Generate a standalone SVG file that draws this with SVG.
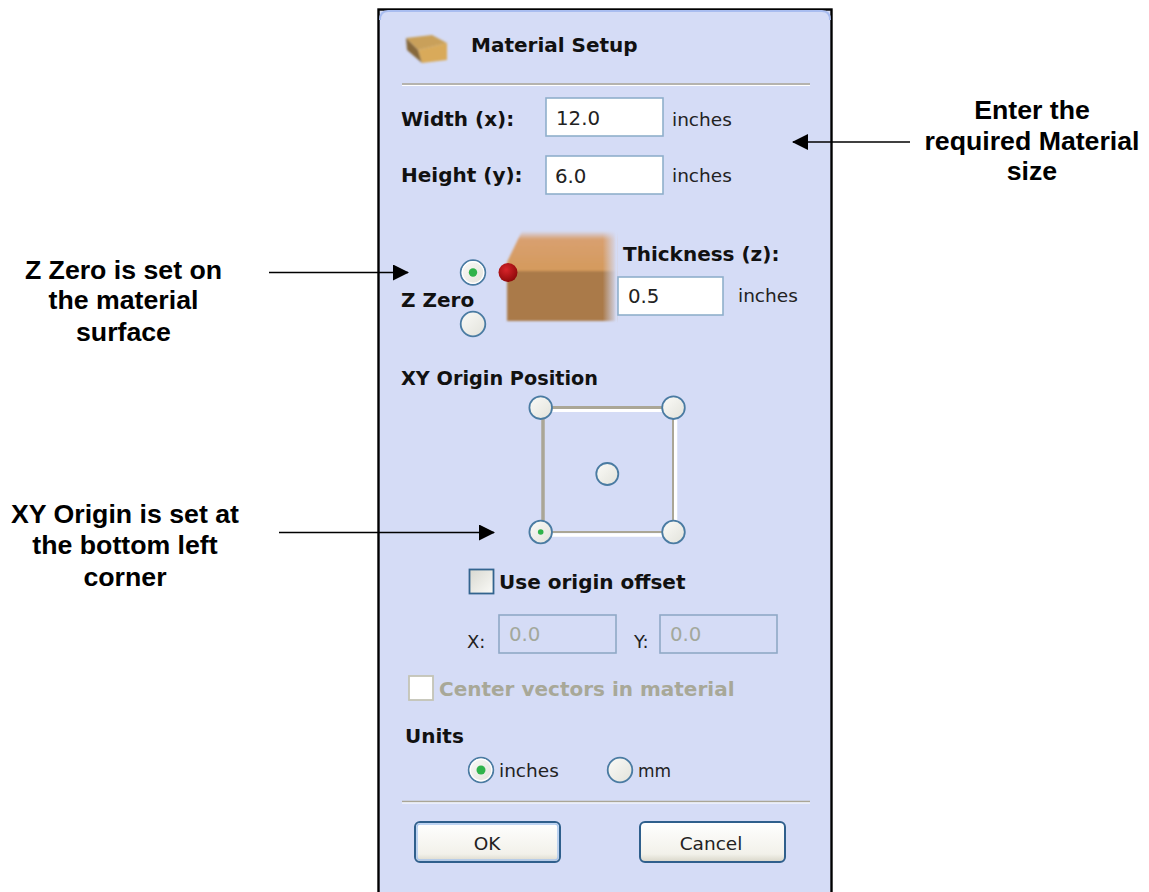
<svg xmlns="http://www.w3.org/2000/svg" width="1149" height="892" viewBox="0 0 1149 892">
<style>
.a{font-family:"Liberation Sans",Arial,sans-serif;font-size:26.7px;font-weight:bold;fill:#000;text-anchor:middle}
.b{font-family:"DejaVu Sans",Verdana,sans-serif;font-weight:bold;font-size:20px;fill:#111}
.t{font-family:"DejaVu Sans",Verdana,sans-serif;font-size:18.500px;fill:#222}
.n{font-family:"DejaVu Sans",Verdana,sans-serif;font-size:19.800px;fill:#222}
.f{fill:#fff;stroke:#8fafcb;stroke-width:1.6}
.d{fill:none;stroke:#8fa9c6;stroke-width:1.6}
.r{fill:url(#rg);stroke:#4a7ba2;stroke-width:1.8}
.i{fill:none;stroke:#fff;stroke-width:1.2}
.c{stroke:#000;stroke-width:1.7;fill:none}
.s1{stroke:#aaa696;fill:none}
.s2{stroke:#fff;fill:none}
</style>
<defs>
<linearGradient id="rg" x1="0" y1="0" x2="1" y2="1"><stop offset="0" stop-color="#fbfbf8"/><stop offset="1" stop-color="#e2e2da"/></linearGradient>
<linearGradient id="cb" x1="0" y1="0" x2="1" y2="1"><stop offset="0" stop-color="#d8d8d0"/><stop offset="1" stop-color="#fbfbf8"/></linearGradient>
<linearGradient id="bt" x1="0" y1="0" x2="0" y2="1"><stop offset="0" stop-color="#fff"/><stop offset="0.8" stop-color="#f2f1ea"/><stop offset="1" stop-color="#d8d5c8"/></linearGradient>
<linearGradient id="wd" x1="0" y1="0" x2="0" y2="1"><stop offset="0" stop-color="#d5dcf6"/><stop offset="0.2" stop-color="#d9a070"/><stop offset="1" stop-color="#d49a5c"/></linearGradient>
<linearGradient id="wr" x1="0" y1="0" x2="1" y2="0"><stop offset="0" stop-color="#d5dcf6" stop-opacity="0"/><stop offset="0.87" stop-color="#d5dcf6" stop-opacity="0"/><stop offset="1" stop-color="#d5dcf6"/></linearGradient>
<radialGradient id="ball" cx="0.4" cy="0.35" r="0.7"><stop offset="0" stop-color="#d8242a"/><stop offset="1" stop-color="#8a0808"/></radialGradient>
<filter id="bl" x="-10%" y="-10%" width="120%" height="120%"><feGaussianBlur stdDeviation="0.9"/></filter>
<marker id="ah" viewBox="0 0 16 16" refX="15" refY="8" markerWidth="16" markerHeight="16" markerUnits="userSpaceOnUse" orient="auto"><path d="M0 0L16 8L0 16Z" fill="#000"/></marker>
</defs>
<rect width="1149" height="892" fill="#fff"/>

<g id="dialog">
<rect x="378.500" y="9.500" width="453" height="890" fill="#d5dcf6" stroke="#000" stroke-width="2.400"/>
<path d="M380 20Q380 11 388 11H822Q830 11 830 20" fill="none" stroke="#a9bdf0" stroke-width="2"/>
</g>

<g id="title">
<g filter="url(#bl)">
<path d="M406 38L432 35L447 43L418 50Z" fill="#c9a05a"/>
<path d="M418 50L447 43V60L422 63Z" fill="#d9aa5a"/>
<path d="M406 38L418 50L422 63L407 50Z" fill="#86683a"/>
</g>
<text class="b" x="471" y="52">Material Setup</text>
</g>
<path class="s1" d="M402 84H810" stroke-width="1.500"/>
<path class="s2" d="M402 85.500H810" stroke-width="1"/>

<g id="width">
<text class="b" x="401" y="126">Width (x):</text>
<rect class="f" x="546" y="98" width="117" height="38"/>
<text class="n" x="556" y="125">12.0</text>
<text class="t" x="672" y="126">inches</text>
</g>
<g id="height">
<text class="b" x="401" y="182">Height (y):</text>
<rect class="f" x="546" y="156" width="117" height="38"/>
<text class="n" x="555" y="183">6.0</text>
<text class="t" x="672" y="182">inches</text>
</g>

<g id="zzero">
<g filter="url(#bl)">
<path d="M507 272L507 262L522 231H616V272Z" fill="url(#wd)"/>
<path d="M507 271H616V321H507Z" fill="#aa7a49"/>
</g>
<rect x="507" y="228" width="110" height="96" fill="url(#wr)"/>
<circle cx="508" cy="272.500" r="9.500" fill="url(#ball)"/>
<circle class="r" cx="473" cy="272.500" r="12.300"/>
<circle class="i" cx="473" cy="272.500" r="10.800"/>
<circle cx="473" cy="272.500" r="4.200" fill="#2fb34a"/>
<circle class="r" cx="473" cy="324" r="12.300"/>
<text class="b" x="401" y="307">Z Zero</text>
<text class="b" x="623" y="261">Thickness (z):</text>
<rect class="f" x="618" y="277" width="105" height="38"/>
<text class="n" x="628" y="303">0.5</text>
<text class="t" x="738" y="302">inches</text>
</g>

<g id="xy-origin">
<text class="b" x="401" y="385" textLength="197" lengthAdjust="spacingAndGlyphs">XY Origin Position</text>
<path class="s2" d="M541 410.500H673" stroke-width="3"/>
<path class="s1" d="M541 407.500H673" stroke-width="3"/>
<path class="s1" d="M543 407V532" stroke-width="3.500"/>
<path class="s2" d="M541 535H673M675.500 408V532" stroke-width="3.500"/>
<path class="s1" d="M541 532H673M673 408V532" stroke-width="2"/>
<circle class="r" cx="540.700" cy="407.700" r="11.300"/>
<circle class="r" cx="673.500" cy="407.700" r="11.300"/>
<circle class="r" cx="607.300" cy="474" r="11"/>
<circle class="r" cx="540.700" cy="532" r="11.300"/>
<circle cx="540.700" cy="532" r="2.800" fill="#2fb34a"/>
<circle class="r" cx="673.500" cy="532" r="11.300"/>
</g>

<g id="offset">
<rect x="469.500" y="569.500" width="24" height="24" fill="url(#cb)" stroke="#33648f" stroke-width="1.800"/>
<text class="b" x="499" y="589">Use origin offset</text>
<text class="t" x="467" y="648" style="font-size:18px">X:</text>
<rect class="d" x="499" y="615" width="117" height="38"/>
<text class="n" x="509" y="641" style="fill:#a3a89c">0.0</text>
<text class="t" x="634" y="648" style="font-size:18px">Y:</text>
<rect class="d" x="660" y="615" width="117" height="38"/>
<text class="n" x="670" y="641" style="fill:#a3a89c">0.0</text>
</g>

<g id="center">
<rect x="409" y="676" width="24" height="24" fill="#fff" stroke="#c4c4b6" stroke-width="1.800"/>
<text class="b" x="439" y="696" style="fill:#a8a898">Center vectors in material</text>
</g>

<g id="units">
<text class="b" x="405" y="743">Units</text>
<circle class="r" cx="481" cy="770" r="12.300"/>
<circle class="i" cx="481" cy="770" r="10.800"/>
<circle cx="481" cy="770" r="4.500" fill="#2fb34a"/>
<text class="t" x="499" y="777">inches</text>
<circle class="r" cx="620" cy="770" r="12.300"/>
<text class="t" x="638" y="777" style="font-size:17px">mm</text>
</g>
<path class="s1" d="M402 801.500H810" stroke-width="1.500"/>
<path class="s2" d="M402 803H810" stroke-width="1"/>

<g id="ok">
<rect x="415" y="822" width="145" height="40" rx="5" fill="url(#bt)" stroke="#2f5f8c" stroke-width="2"/>
<rect x="417" y="824" width="141" height="36" rx="3" fill="none" stroke="#a9c6ee" stroke-width="1.500"/>
<text class="t" x="487" y="850" text-anchor="middle">OK</text>
</g>
<g id="cancel">
<rect x="640" y="822" width="145" height="40" rx="5" fill="url(#bt)" stroke="#2f5f8c" stroke-width="2"/>
<text class="t" x="711" y="850" text-anchor="middle">Cancel</text>
</g>

<g id="label-size">
<text class="a" x="1032" y="119">Enter the</text>
<text class="a" x="1032" y="150">required Material</text>
<text class="a" x="1032" y="180">size</text>
</g>
<g id="label-zzero">
<text class="a" x="123.500" y="279">Z Zero is set on</text>
<text class="a" x="123.500" y="309">the material</text>
<text class="a" x="123.500" y="341">surface</text>
</g>
<g id="label-xy">
<text class="a" x="125" y="523">XY Origin is set at</text>
<text class="a" x="125" y="554">the bottom left</text>
<text class="a" x="125" y="586">corner</text>
</g>

<g id="connectors">
<path class="c" d="M910 142H793" marker-end="url(#ah)"/>
<path class="c" d="M269 272.500H408" marker-end="url(#ah)"/>
<path class="c" d="M279 532.500H494" marker-end="url(#ah)"/>
</g>
</svg>
